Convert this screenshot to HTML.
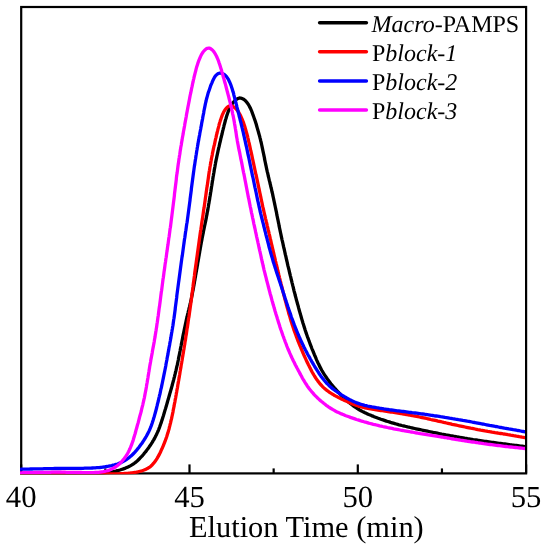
<!DOCTYPE html>
<html><head><meta charset="utf-8"><style>
html,body{margin:0;padding:0;background:#fff;}
body{width:547px;height:550px;overflow:hidden;}
svg{display:block;will-change:transform;}
text{font-family:"Liberation Serif",serif;fill:#000;text-rendering:geometricPrecision;}
</style></head><body>
<svg width="547" height="550" viewBox="0 0 547 550">
<defs><clipPath id="c"><rect x="20" y="7.0" width="505" height="467.2"/></clipPath></defs>
<g stroke="#000" stroke-width="2.2" fill="none">
<rect x="21.2" y="7.0" width="504.90000000000003" height="466.4"/>
<line x1="21.20" y1="473.4" x2="21.20" y2="464.4"/>
<line x1="189.50" y1="473.4" x2="189.50" y2="464.4"/>
<line x1="357.80" y1="473.4" x2="357.80" y2="464.4"/>
<line x1="526.10" y1="473.4" x2="526.10" y2="464.4"/>
<line x1="105.35" y1="473.4" x2="105.35" y2="468.4"/>
<line x1="273.65" y1="473.4" x2="273.65" y2="468.4"/>
<line x1="441.95" y1="473.4" x2="441.95" y2="468.4"/>
</g>
<g clip-path="url(#c)" fill="none" stroke-width="3.3" stroke-linejoin="round" stroke-linecap="round">
<path d="M20.0,474.0 L21.5,474.0 L22.9,474.0 L24.4,474.0 L25.8,474.0 L27.3,474.0 L28.7,474.0 L30.2,474.0 L31.7,474.0 L33.1,474.0 L34.6,474.0 L36.0,474.0 L37.5,474.0 L38.9,474.0 L40.4,474.0 L41.8,474.0 L43.3,474.0 L44.8,474.0 L46.2,474.0 L47.7,474.0 L49.1,474.0 L50.6,474.1 L52.0,474.1 L53.5,474.1 L55.0,474.1 L56.4,474.1 L57.9,474.1 L59.3,474.2 L60.8,474.2 L62.2,474.2 L63.7,474.2 L65.1,474.2 L66.6,474.3 L68.1,474.3 L69.5,474.3 L71.0,474.3 L72.4,474.4 L73.9,474.4 L75.3,474.4 L76.8,474.4 L78.2,474.4 L79.7,474.4 L81.1,474.4 L82.6,474.4 L84.0,474.4 L85.5,474.3 L86.9,474.3 L88.4,474.3 L89.8,474.2 L91.3,474.1 L92.7,474.1 L94.2,474.0 L95.6,473.9 L97.1,473.8 L98.5,473.7 L100.0,473.6 L101.4,473.4 L102.9,473.3 L104.3,473.1 L105.7,472.9 L107.2,472.7 L108.6,472.5 L110.0,472.3 L111.5,472.0 L112.9,471.7 L114.3,471.4 L115.8,471.1 L117.2,470.7 L118.6,470.4 L120.0,470.0 L121.4,469.5 L122.7,469.1 L124.1,468.6 L125.5,468.1 L126.8,467.5 L128.1,466.9 L129.4,466.3 L130.7,465.6 L131.9,464.9 L133.1,464.1 L134.3,463.3 L135.5,462.4 L136.6,461.5 L137.7,460.5 L138.7,459.5 L139.7,458.5 L140.7,457.4 L141.7,456.4 L142.7,455.3 L143.6,454.2 L144.5,453.0 L145.5,451.9 L146.4,450.7 L147.2,449.6 L148.1,448.4 L149.0,447.2 L149.8,446.0 L150.6,444.8 L151.4,443.6 L152.2,442.4 L152.9,441.1 L153.7,439.9 L154.4,438.6 L155.1,437.3 L155.7,436.0 L156.4,434.7 L157.0,433.4 L157.6,432.1 L158.2,430.8 L158.7,429.5 L159.2,428.1 L159.7,426.8 L160.2,425.4 L160.7,424.0 L161.2,422.7 L161.6,421.3 L162.1,419.9 L162.5,418.5 L162.9,417.2 L163.4,415.8 L163.8,414.4 L164.2,413.0 L164.6,411.6 L165.0,410.2 L165.5,408.8 L165.9,407.4 L166.3,406.0 L166.7,404.6 L167.1,403.2 L167.5,401.8 L167.9,400.4 L168.3,399.0 L168.7,397.6 L169.1,396.2 L169.5,394.8 L169.9,393.4 L170.3,392.0 L170.7,390.6 L171.1,389.2 L171.5,387.8 L171.9,386.4 L172.3,385.0 L172.6,383.6 L173.0,382.2 L173.4,380.8 L173.8,379.4 L174.1,378.0 L174.5,376.6 L174.8,375.1 L175.2,373.7 L175.5,372.3 L175.9,370.9 L176.2,369.5 L176.5,368.1 L176.8,366.6 L177.2,365.2 L177.5,363.8 L177.8,362.4 L178.1,361.0 L178.4,359.5 L178.6,358.1 L178.9,356.7 L179.2,355.3 L179.5,353.9 L179.8,352.4 L180.1,351.0 L180.3,349.6 L180.6,348.2 L180.9,346.7 L181.2,345.3 L181.4,343.9 L181.7,342.5 L182.0,341.0 L182.3,339.6 L182.6,338.2 L182.8,336.8 L183.1,335.3 L183.4,333.9 L183.7,332.5 L184.0,331.1 L184.3,329.6 L184.6,328.2 L184.9,326.8 L185.2,325.4 L185.5,323.9 L185.8,322.5 L186.1,321.1 L186.4,319.7 L186.7,318.3 L187.1,316.8 L187.4,315.4 L187.7,314.0 L188.1,312.6 L188.4,311.1 L188.8,309.7 L189.1,308.3 L189.5,306.9 L189.8,305.5 L190.1,304.0 L190.5,302.6 L190.8,301.2 L191.1,299.8 L191.4,298.3 L191.7,296.9 L192.0,295.5 L192.3,294.1 L192.5,292.6 L192.8,291.2 L193.1,289.8 L193.4,288.3 L193.6,286.9 L193.9,285.5 L194.1,284.1 L194.4,282.6 L194.6,281.2 L194.9,279.8 L195.1,278.3 L195.4,276.9 L195.6,275.5 L195.9,274.0 L196.1,272.6 L196.4,271.2 L196.6,269.7 L196.9,268.3 L197.1,266.9 L197.4,265.5 L197.6,264.0 L197.8,262.6 L198.1,261.2 L198.3,259.7 L198.6,258.3 L198.8,256.9 L199.1,255.4 L199.3,254.0 L199.6,252.6 L199.8,251.1 L200.1,249.7 L200.3,248.3 L200.6,246.8 L200.8,245.4 L201.1,244.0 L201.3,242.6 L201.6,241.1 L201.9,239.7 L202.1,238.3 L202.4,236.9 L202.7,235.4 L203.0,234.0 L203.3,232.6 L203.5,231.2 L203.8,229.8 L204.1,228.4 L204.4,226.9 L204.7,225.5 L205.0,224.1 L205.3,222.7 L205.6,221.3 L205.9,219.9 L206.2,218.4 L206.4,217.0 L206.7,215.6 L207.0,214.2 L207.2,212.7 L207.5,211.3 L207.8,209.9 L208.0,208.5 L208.3,207.0 L208.5,205.6 L208.7,204.2 L209.0,202.8 L209.2,201.3 L209.5,199.9 L209.7,198.5 L209.9,197.0 L210.2,195.6 L210.4,194.2 L210.6,192.7 L210.9,191.3 L211.1,189.8 L211.3,188.4 L211.5,187.0 L211.8,185.5 L212.0,184.1 L212.2,182.7 L212.4,181.2 L212.7,179.8 L212.9,178.3 L213.1,176.9 L213.4,175.5 L213.6,174.0 L213.9,172.6 L214.1,171.2 L214.3,169.7 L214.6,168.3 L214.9,166.8 L215.1,165.4 L215.4,164.0 L215.6,162.6 L215.9,161.1 L216.2,159.7 L216.5,158.3 L216.8,156.8 L217.1,155.4 L217.4,154.0 L217.7,152.6 L218.0,151.2 L218.3,149.7 L218.6,148.3 L219.0,146.9 L219.3,145.5 L219.6,144.1 L219.9,142.7 L220.3,141.2 L220.6,139.8 L220.9,138.4 L221.3,137.0 L221.6,135.6 L222.0,134.2 L222.3,132.7 L222.6,131.3 L223.0,129.9 L223.3,128.5 L223.7,127.1 L224.0,125.6 L224.4,124.2 L224.8,122.8 L225.2,121.3 L225.5,119.9 L226.0,118.5 L226.4,117.0 L226.8,115.6 L227.3,114.2 L227.8,112.8 L228.3,111.4 L228.9,110.0 L229.5,108.6 L230.2,107.2 L230.9,105.9 L231.7,104.6 L232.5,103.3 L233.5,102.1 L234.5,101.0 L235.5,100.1 L236.6,99.2 L237.7,98.6 L238.9,98.2 L240.1,98.0 L241.2,98.2 L242.4,98.6 L243.5,99.2 L244.6,100.0 L245.7,101.0 L246.6,102.1 L247.5,103.3 L248.4,104.5 L249.1,105.8 L249.8,107.1 L250.5,108.4 L251.1,109.8 L251.7,111.2 L252.2,112.6 L252.7,114.0 L253.2,115.4 L253.7,116.8 L254.2,118.2 L254.7,119.6 L255.2,121.0 L255.6,122.4 L256.1,123.8 L256.5,125.3 L256.9,126.7 L257.3,128.1 L257.7,129.5 L258.1,130.9 L258.5,132.3 L258.9,133.7 L259.3,135.1 L259.7,136.5 L260.0,137.9 L260.4,139.3 L260.7,140.7 L261.1,142.2 L261.4,143.6 L261.7,145.0 L262.0,146.4 L262.3,147.8 L262.6,149.2 L262.9,150.7 L263.2,152.1 L263.5,153.5 L263.8,154.9 L264.1,156.3 L264.4,157.7 L264.6,159.2 L264.9,160.6 L265.2,162.0 L265.5,163.4 L265.8,164.8 L266.1,166.2 L266.4,167.7 L266.7,169.1 L267.0,170.5 L267.3,171.9 L267.7,173.3 L268.0,174.7 L268.3,176.2 L268.7,177.6 L269.0,179.0 L269.3,180.4 L269.7,181.8 L270.0,183.3 L270.4,184.7 L270.7,186.1 L271.0,187.5 L271.4,188.9 L271.7,190.4 L272.0,191.8 L272.4,193.2 L272.7,194.6 L273.0,196.1 L273.3,197.5 L273.6,198.9 L273.9,200.3 L274.2,201.8 L274.5,203.2 L274.8,204.6 L275.1,206.0 L275.4,207.5 L275.7,208.9 L276.0,210.3 L276.3,211.7 L276.6,213.1 L276.8,214.6 L277.1,216.0 L277.4,217.4 L277.7,218.8 L278.0,220.2 L278.3,221.7 L278.6,223.1 L278.9,224.5 L279.1,225.9 L279.4,227.3 L279.7,228.8 L280.0,230.2 L280.3,231.6 L280.6,233.0 L280.9,234.4 L281.2,235.9 L281.5,237.3 L281.8,238.7 L282.1,240.1 L282.5,241.6 L282.8,243.0 L283.1,244.4 L283.4,245.8 L283.7,247.2 L284.1,248.7 L284.4,250.1 L284.7,251.5 L285.0,252.9 L285.3,254.4 L285.7,255.8 L286.0,257.2 L286.3,258.6 L286.6,260.0 L287.0,261.5 L287.3,262.9 L287.6,264.3 L287.9,265.7 L288.3,267.1 L288.6,268.5 L289.0,269.9 L289.3,271.3 L289.6,272.8 L290.0,274.2 L290.3,275.6 L290.7,277.0 L291.0,278.4 L291.3,279.8 L291.7,281.2 L292.0,282.6 L292.4,284.0 L292.7,285.4 L293.1,286.8 L293.4,288.3 L293.8,289.7 L294.1,291.1 L294.5,292.5 L294.9,293.9 L295.2,295.3 L295.6,296.7 L296.0,298.1 L296.3,299.5 L296.7,300.9 L297.1,302.3 L297.5,303.7 L297.9,305.1 L298.3,306.5 L298.6,307.9 L299.0,309.3 L299.4,310.7 L299.8,312.1 L300.2,313.5 L300.6,314.9 L301.0,316.3 L301.4,317.7 L301.8,319.1 L302.2,320.4 L302.6,321.8 L303.0,323.2 L303.5,324.6 L303.9,326.0 L304.3,327.4 L304.8,328.8 L305.2,330.2 L305.7,331.6 L306.1,332.9 L306.6,334.3 L307.1,335.7 L307.6,337.1 L308.1,338.4 L308.6,339.8 L309.1,341.2 L309.6,342.5 L310.1,343.9 L310.6,345.3 L311.2,346.6 L311.7,348.0 L312.2,349.3 L312.8,350.7 L313.3,352.0 L313.9,353.4 L314.4,354.7 L315.0,356.0 L315.6,357.4 L316.1,358.7 L316.7,360.1 L317.3,361.4 L317.9,362.7 L318.6,364.0 L319.2,365.3 L319.8,366.6 L320.5,367.9 L321.2,369.2 L321.9,370.5 L322.6,371.7 L323.4,373.0 L324.1,374.2 L324.9,375.4 L325.7,376.6 L326.6,377.8 L327.4,379.0 L328.3,380.2 L329.1,381.4 L330.0,382.5 L330.9,383.7 L331.8,384.8 L332.7,385.9 L333.7,387.0 L334.6,388.1 L335.6,389.2 L336.6,390.3 L337.6,391.4 L338.6,392.4 L339.6,393.5 L340.6,394.5 L341.6,395.6 L342.7,396.6 L343.7,397.6 L344.8,398.6 L345.8,399.6 L346.9,400.6 L348.0,401.5 L349.1,402.5 L350.2,403.4 L351.3,404.3 L352.5,405.2 L353.7,406.1 L354.8,406.9 L356.0,407.7 L357.3,408.5 L358.5,409.3 L359.7,410.0 L361.0,410.7 L362.3,411.4 L363.6,412.0 L364.9,412.7 L366.2,413.3 L367.5,413.9 L368.8,414.5 L370.1,415.0 L371.5,415.6 L372.8,416.1 L374.1,416.7 L375.5,417.2 L376.9,417.7 L378.2,418.2 L379.6,418.7 L380.9,419.2 L382.3,419.7 L383.7,420.1 L385.1,420.6 L386.4,421.1 L387.8,421.5 L389.2,421.9 L390.6,422.4 L392.0,422.8 L393.4,423.2 L394.8,423.6 L396.2,424.0 L397.6,424.4 L399.0,424.8 L400.4,425.1 L401.8,425.5 L403.3,425.8 L404.7,426.2 L406.1,426.5 L407.5,426.9 L408.9,427.2 L410.3,427.5 L411.8,427.8 L413.2,428.2 L414.6,428.5 L416.0,428.8 L417.5,429.1 L418.9,429.4 L420.3,429.7 L421.7,430.0 L423.2,430.3 L424.6,430.6 L426.0,430.9 L427.5,431.2 L428.9,431.5 L430.3,431.8 L431.7,432.1 L433.2,432.4 L434.6,432.6 L436.0,432.9 L437.4,433.2 L438.9,433.5 L440.3,433.8 L441.7,434.1 L443.1,434.3 L444.6,434.6 L446.0,434.9 L447.4,435.1 L448.8,435.4 L450.3,435.7 L451.7,435.9 L453.1,436.2 L454.5,436.5 L456.0,436.7 L457.4,437.0 L458.8,437.2 L460.3,437.5 L461.7,437.7 L463.1,437.9 L464.6,438.2 L466.0,438.4 L467.5,438.7 L468.9,438.9 L470.3,439.1 L471.8,439.3 L473.2,439.6 L474.6,439.8 L476.1,440.0 L477.5,440.2 L479.0,440.5 L480.4,440.7 L481.8,440.9 L483.3,441.1 L484.7,441.3 L486.1,441.5 L487.6,441.7 L489.0,441.9 L490.4,442.1 L491.9,442.3 L493.3,442.5 L494.7,442.7 L496.2,442.9 L497.6,443.1 L499.0,443.3 L500.5,443.5 L501.9,443.7 L503.3,443.9 L504.8,444.0 L506.2,444.2 L507.7,444.4 L509.1,444.6 L510.5,444.8 L512.0,445.0 L513.4,445.1 L514.9,445.3 L516.3,445.5 L517.8,445.7 L519.2,445.9 L520.6,446.1 L522.1,446.2 L523.5,446.4 L525.0,446.6" stroke="#000000"/>
<path d="M20.0,474.0 L21.5,474.0 L22.9,474.0 L24.4,474.0 L25.8,474.0 L27.3,474.0 L28.7,474.0 L30.2,474.0 L31.7,474.0 L33.1,474.0 L34.6,474.0 L36.0,474.0 L37.5,474.0 L38.9,474.0 L40.4,474.0 L41.9,474.0 L43.3,474.0 L44.8,474.0 L46.2,474.0 L47.7,474.0 L49.1,474.0 L50.6,474.0 L52.0,474.0 L53.5,474.0 L54.9,474.0 L56.4,474.0 L57.8,474.0 L59.3,474.0 L60.7,474.0 L62.2,474.0 L63.6,474.0 L65.1,474.0 L66.5,474.0 L68.0,474.1 L69.4,474.1 L70.9,474.1 L72.3,474.1 L73.8,474.1 L75.2,474.1 L76.7,474.1 L78.1,474.1 L79.6,474.1 L81.0,474.1 L82.5,474.1 L83.9,474.1 L85.4,474.1 L86.8,474.1 L88.3,474.1 L89.7,474.1 L91.2,474.1 L92.6,474.1 L94.1,474.1 L95.5,474.1 L97.0,474.1 L98.4,474.1 L99.9,474.1 L101.3,474.1 L102.8,474.1 L104.2,474.1 L105.7,474.1 L107.1,474.0 L108.6,474.0 L110.0,474.0 L111.5,474.0 L113.0,473.9 L114.4,473.9 L115.9,473.9 L117.3,473.8 L118.8,473.8 L120.3,473.7 L121.7,473.6 L123.2,473.6 L124.7,473.5 L126.1,473.4 L127.6,473.3 L129.1,473.1 L130.5,473.0 L132.0,472.8 L133.5,472.6 L134.9,472.4 L136.3,472.2 L137.8,471.9 L139.2,471.5 L140.6,471.2 L142.0,470.8 L143.4,470.3 L144.7,469.8 L146.0,469.2 L147.3,468.6 L148.5,467.8 L149.7,467.1 L150.8,466.2 L151.8,465.3 L152.8,464.2 L153.7,463.2 L154.6,462.0 L155.5,460.9 L156.3,459.7 L157.1,458.4 L157.8,457.2 L158.5,455.9 L159.2,454.6 L159.9,453.3 L160.5,452.0 L161.1,450.6 L161.7,449.3 L162.3,448.0 L162.9,446.6 L163.5,445.3 L164.0,443.9 L164.6,442.5 L165.1,441.2 L165.6,439.8 L166.1,438.4 L166.6,437.0 L167.0,435.7 L167.4,434.3 L167.9,432.9 L168.3,431.5 L168.7,430.1 L169.1,428.7 L169.4,427.3 L169.8,425.9 L170.1,424.5 L170.5,423.1 L170.8,421.7 L171.1,420.3 L171.5,418.9 L171.8,417.4 L172.1,416.0 L172.4,414.6 L172.7,413.2 L173.0,411.8 L173.2,410.3 L173.5,408.9 L173.8,407.5 L174.1,406.1 L174.3,404.6 L174.6,403.2 L174.9,401.8 L175.1,400.4 L175.4,398.9 L175.7,397.5 L175.9,396.1 L176.2,394.6 L176.4,393.2 L176.7,391.8 L176.9,390.3 L177.2,388.9 L177.5,387.5 L177.7,386.0 L177.9,384.6 L178.2,383.2 L178.4,381.7 L178.7,380.3 L178.9,378.9 L179.2,377.4 L179.4,376.0 L179.7,374.5 L179.9,373.1 L180.1,371.7 L180.4,370.2 L180.6,368.8 L180.9,367.4 L181.1,365.9 L181.3,364.5 L181.6,363.1 L181.8,361.7 L182.1,360.2 L182.3,358.8 L182.5,357.4 L182.8,355.9 L183.0,354.5 L183.3,353.1 L183.5,351.6 L183.7,350.2 L184.0,348.8 L184.2,347.3 L184.4,345.9 L184.7,344.5 L184.9,343.0 L185.1,341.6 L185.4,340.2 L185.6,338.7 L185.8,337.3 L186.0,335.8 L186.3,334.4 L186.5,333.0 L186.7,331.5 L186.9,330.1 L187.1,328.6 L187.4,327.2 L187.6,325.7 L187.8,324.3 L188.0,322.9 L188.2,321.4 L188.4,320.0 L188.6,318.5 L188.9,317.1 L189.1,315.7 L189.3,314.2 L189.5,312.8 L189.7,311.3 L189.9,309.9 L190.1,308.5 L190.3,307.0 L190.5,305.6 L190.7,304.2 L190.9,302.7 L191.1,301.3 L191.3,299.8 L191.5,298.4 L191.6,297.0 L191.8,295.5 L192.0,294.1 L192.2,292.6 L192.4,291.2 L192.6,289.8 L192.8,288.3 L193.0,286.9 L193.1,285.4 L193.3,284.0 L193.5,282.6 L193.7,281.1 L193.9,279.7 L194.1,278.2 L194.3,276.8 L194.5,275.4 L194.6,273.9 L194.8,272.5 L195.0,271.0 L195.2,269.6 L195.4,268.2 L195.6,266.7 L195.8,265.3 L196.0,263.9 L196.2,262.4 L196.4,261.0 L196.6,259.5 L196.8,258.1 L197.0,256.7 L197.2,255.2 L197.4,253.8 L197.6,252.3 L197.8,250.9 L198.0,249.4 L198.2,248.0 L198.4,246.6 L198.6,245.1 L198.8,243.7 L199.0,242.2 L199.2,240.8 L199.4,239.3 L199.6,237.9 L199.8,236.5 L200.0,235.0 L200.2,233.6 L200.4,232.1 L200.6,230.7 L200.9,229.3 L201.1,227.8 L201.3,226.4 L201.5,224.9 L201.7,223.5 L201.9,222.1 L202.1,220.6 L202.4,219.2 L202.6,217.7 L202.8,216.3 L203.0,214.9 L203.2,213.4 L203.4,212.0 L203.6,210.5 L203.8,209.1 L204.1,207.7 L204.3,206.2 L204.5,204.8 L204.7,203.3 L204.9,201.9 L205.1,200.5 L205.3,199.0 L205.5,197.6 L205.7,196.1 L205.9,194.7 L206.1,193.3 L206.3,191.8 L206.5,190.4 L206.7,188.9 L206.9,187.5 L207.2,186.1 L207.4,184.6 L207.6,183.2 L207.8,181.8 L208.0,180.3 L208.2,178.9 L208.4,177.5 L208.6,176.0 L208.8,174.6 L209.0,173.2 L209.2,171.7 L209.5,170.3 L209.7,168.9 L209.9,167.5 L210.2,166.0 L210.4,164.6 L210.7,163.2 L210.9,161.8 L211.2,160.3 L211.4,158.9 L211.7,157.5 L212.0,156.1 L212.3,154.6 L212.5,153.2 L212.8,151.8 L213.1,150.4 L213.4,148.9 L213.7,147.5 L214.0,146.1 L214.4,144.7 L214.7,143.3 L215.0,141.8 L215.3,140.4 L215.6,139.0 L216.0,137.6 L216.3,136.1 L216.6,134.7 L217.0,133.3 L217.3,131.9 L217.7,130.4 L218.0,129.0 L218.4,127.6 L218.8,126.1 L219.1,124.7 L219.5,123.3 L220.0,121.8 L220.4,120.4 L220.9,119.0 L221.4,117.5 L221.9,116.1 L222.4,114.7 L223.1,113.3 L223.7,112.0 L224.5,110.7 L225.3,109.5 L226.1,108.4 L227.1,107.4 L228.2,106.6 L229.3,106.1 L230.5,105.9 L231.7,106.1 L232.9,106.5 L234.0,107.1 L235.0,107.9 L236.0,108.9 L236.9,109.9 L237.8,111.0 L238.6,112.2 L239.4,113.5 L240.1,114.8 L240.8,116.2 L241.4,117.6 L242.0,119.0 L242.6,120.4 L243.2,121.8 L243.7,123.3 L244.2,124.7 L244.6,126.1 L245.1,127.6 L245.5,129.0 L245.9,130.5 L246.3,131.9 L246.7,133.3 L247.1,134.8 L247.5,136.2 L247.8,137.6 L248.2,139.1 L248.5,140.5 L248.8,141.9 L249.2,143.4 L249.5,144.8 L249.8,146.2 L250.1,147.6 L250.4,149.0 L250.7,150.5 L251.1,151.9 L251.4,153.3 L251.7,154.7 L252.0,156.1 L252.3,157.5 L252.6,159.0 L252.9,160.4 L253.2,161.8 L253.5,163.2 L253.8,164.6 L254.1,166.0 L254.4,167.4 L254.7,168.9 L255.0,170.3 L255.3,171.7 L255.6,173.1 L255.9,174.5 L256.3,175.9 L256.6,177.4 L256.9,178.8 L257.2,180.2 L257.5,181.6 L257.8,183.0 L258.1,184.4 L258.4,185.9 L258.7,187.3 L259.0,188.7 L259.3,190.1 L259.6,191.5 L259.9,193.0 L260.2,194.4 L260.5,195.8 L260.8,197.2 L261.1,198.7 L261.4,200.1 L261.7,201.5 L262.0,202.9 L262.3,204.4 L262.6,205.8 L262.9,207.2 L263.3,208.6 L263.6,210.1 L263.9,211.5 L264.2,212.9 L264.5,214.3 L264.9,215.7 L265.2,217.1 L265.5,218.6 L265.9,220.0 L266.2,221.4 L266.6,222.8 L266.9,224.2 L267.2,225.6 L267.6,227.1 L267.9,228.5 L268.2,229.9 L268.6,231.3 L268.9,232.7 L269.2,234.1 L269.6,235.5 L269.9,236.9 L270.2,238.4 L270.6,239.8 L270.9,241.2 L271.2,242.6 L271.5,244.0 L271.9,245.4 L272.2,246.9 L272.5,248.3 L272.9,249.7 L273.2,251.1 L273.5,252.5 L273.9,254.0 L274.2,255.4 L274.5,256.8 L274.9,258.2 L275.2,259.6 L275.5,261.1 L275.9,262.5 L276.2,263.9 L276.6,265.3 L276.9,266.7 L277.2,268.2 L277.6,269.6 L277.9,271.0 L278.3,272.4 L278.6,273.8 L278.9,275.2 L279.3,276.6 L279.6,278.1 L280.0,279.5 L280.3,280.9 L280.7,282.3 L281.0,283.7 L281.4,285.1 L281.7,286.5 L282.1,287.9 L282.4,289.3 L282.8,290.7 L283.1,292.1 L283.5,293.5 L283.8,294.9 L284.2,296.3 L284.6,297.7 L284.9,299.1 L285.3,300.5 L285.7,301.9 L286.1,303.3 L286.4,304.7 L286.8,306.1 L287.2,307.5 L287.6,308.9 L288.0,310.3 L288.4,311.7 L288.7,313.1 L289.1,314.5 L289.6,315.9 L290.0,317.3 L290.4,318.7 L290.8,320.1 L291.2,321.5 L291.7,322.9 L292.1,324.3 L292.6,325.6 L293.0,327.0 L293.5,328.4 L293.9,329.8 L294.4,331.1 L294.9,332.5 L295.4,333.9 L295.9,335.2 L296.4,336.6 L296.9,338.0 L297.4,339.3 L297.9,340.7 L298.5,342.0 L299.0,343.4 L299.5,344.7 L300.1,346.1 L300.7,347.4 L301.2,348.8 L301.8,350.1 L302.4,351.5 L302.9,352.8 L303.5,354.1 L304.1,355.5 L304.7,356.8 L305.3,358.1 L305.9,359.4 L306.5,360.8 L307.1,362.1 L307.8,363.4 L308.4,364.7 L309.1,366.0 L309.7,367.3 L310.4,368.6 L311.0,369.9 L311.7,371.2 L312.4,372.5 L313.2,373.8 L313.9,375.0 L314.7,376.3 L315.4,377.5 L316.2,378.7 L317.1,379.9 L317.9,381.1 L318.8,382.2 L319.7,383.4 L320.6,384.5 L321.6,385.5 L322.6,386.6 L323.6,387.6 L324.7,388.6 L325.8,389.5 L326.9,390.4 L328.1,391.3 L329.2,392.1 L330.4,392.9 L331.7,393.7 L332.9,394.4 L334.1,395.2 L335.4,395.9 L336.7,396.6 L338.0,397.2 L339.3,397.9 L340.6,398.5 L341.9,399.2 L343.2,399.8 L344.5,400.4 L345.9,401.0 L347.2,401.6 L348.5,402.2 L349.9,402.8 L351.2,403.4 L352.6,403.9 L353.9,404.5 L355.3,405.0 L356.6,405.5 L358.0,405.9 L359.4,406.3 L360.8,406.7 L362.2,407.1 L363.6,407.4 L365.1,407.8 L366.5,408.1 L367.9,408.3 L369.3,408.6 L370.8,408.9 L372.2,409.1 L373.6,409.4 L375.1,409.6 L376.5,409.9 L377.9,410.1 L379.4,410.3 L380.8,410.5 L382.3,410.7 L383.7,410.9 L385.2,411.2 L386.6,411.4 L388.0,411.6 L389.5,411.8 L390.9,412.0 L392.3,412.2 L393.8,412.4 L395.2,412.6 L396.7,412.9 L398.1,413.1 L399.5,413.3 L401.0,413.5 L402.4,413.8 L403.8,414.0 L405.2,414.3 L406.7,414.5 L408.1,414.8 L409.5,415.0 L410.9,415.3 L412.4,415.6 L413.8,415.8 L415.2,416.1 L416.6,416.4 L418.0,416.7 L419.5,417.0 L420.9,417.3 L422.3,417.6 L423.7,417.9 L425.1,418.2 L426.6,418.5 L428.0,418.8 L429.4,419.1 L430.8,419.5 L432.2,419.8 L433.7,420.1 L435.1,420.4 L436.5,420.7 L437.9,421.1 L439.3,421.4 L440.8,421.7 L442.2,422.0 L443.6,422.4 L445.0,422.7 L446.4,423.0 L447.9,423.3 L449.3,423.6 L450.7,423.9 L452.1,424.3 L453.6,424.6 L455.0,424.9 L456.4,425.2 L457.8,425.5 L459.3,425.8 L460.7,426.1 L462.1,426.4 L463.5,426.7 L465.0,427.0 L466.4,427.3 L467.8,427.6 L469.2,427.9 L470.7,428.2 L472.1,428.4 L473.5,428.7 L475.0,429.0 L476.4,429.3 L477.8,429.6 L479.3,429.8 L480.7,430.1 L482.1,430.3 L483.5,430.6 L485.0,430.9 L486.4,431.1 L487.8,431.4 L489.3,431.6 L490.7,431.8 L492.1,432.1 L493.6,432.3 L495.0,432.6 L496.4,432.8 L497.8,433.0 L499.3,433.3 L500.7,433.5 L502.1,433.7 L503.6,434.0 L505.0,434.2 L506.4,434.4 L507.9,434.7 L509.3,434.9 L510.7,435.2 L512.1,435.4 L513.6,435.7 L515.0,435.9 L516.4,436.2 L517.9,436.4 L519.3,436.7 L520.7,436.9 L522.1,437.2 L523.6,437.4 L525.0,437.7" stroke="#ff0000"/>
<path d="M20.0,469.3 L21.5,469.2 L23.0,469.2 L24.5,469.2 L26.0,469.1 L27.5,469.1 L29.0,469.1 L30.5,469.0 L32.0,469.0 L33.5,468.9 L35.0,468.9 L36.5,468.9 L38.0,468.8 L39.5,468.8 L41.0,468.8 L42.5,468.8 L44.0,468.7 L45.6,468.7 L47.1,468.7 L48.6,468.6 L50.1,468.6 L51.6,468.6 L53.1,468.6 L54.6,468.5 L56.1,468.5 L57.6,468.5 L59.1,468.5 L60.6,468.5 L62.1,468.4 L63.6,468.4 L65.1,468.4 L66.6,468.4 L68.1,468.4 L69.6,468.4 L71.1,468.4 L72.7,468.4 L74.2,468.3 L75.7,468.3 L77.2,468.3 L78.7,468.3 L80.2,468.3 L81.7,468.3 L83.2,468.3 L84.7,468.2 L86.2,468.2 L87.8,468.2 L89.3,468.1 L90.8,468.1 L92.3,468.0 L93.8,467.9 L95.3,467.8 L96.8,467.7 L98.3,467.6 L99.8,467.5 L101.3,467.3 L102.8,467.1 L104.2,467.0 L105.7,466.7 L107.2,466.5 L108.7,466.2 L110.2,465.9 L111.7,465.6 L113.1,465.2 L114.6,464.9 L116.0,464.4 L117.5,464.0 L118.9,463.4 L120.3,462.9 L121.6,462.3 L123.0,461.6 L124.3,460.9 L125.5,460.1 L126.8,459.3 L128.0,458.4 L129.2,457.5 L130.3,456.5 L131.5,455.6 L132.6,454.5 L133.6,453.5 L134.7,452.4 L135.7,451.2 L136.7,450.1 L137.6,448.9 L138.6,447.7 L139.5,446.5 L140.4,445.3 L141.3,444.1 L142.2,442.9 L143.0,441.6 L143.8,440.4 L144.6,439.1 L145.4,437.8 L146.2,436.5 L146.9,435.2 L147.6,433.9 L148.3,432.5 L149.0,431.2 L149.6,429.8 L150.2,428.4 L150.7,427.1 L151.3,425.6 L151.8,424.2 L152.3,422.8 L152.7,421.4 L153.2,419.9 L153.6,418.5 L154.1,417.0 L154.5,415.6 L154.9,414.1 L155.3,412.7 L155.7,411.2 L156.1,409.8 L156.5,408.3 L156.8,406.9 L157.2,405.4 L157.5,403.9 L157.9,402.5 L158.3,401.0 L158.6,399.6 L158.9,398.1 L159.3,396.6 L159.6,395.2 L160.0,393.7 L160.3,392.3 L160.6,390.8 L160.9,389.3 L161.3,387.9 L161.6,386.4 L161.9,384.9 L162.2,383.5 L162.5,382.0 L162.8,380.5 L163.1,379.1 L163.4,377.6 L163.7,376.1 L164.0,374.6 L164.3,373.2 L164.6,371.7 L164.9,370.2 L165.2,368.7 L165.5,367.2 L165.8,365.7 L166.0,364.3 L166.3,362.8 L166.6,361.3 L166.9,359.8 L167.1,358.3 L167.4,356.8 L167.7,355.4 L168.0,353.9 L168.2,352.4 L168.5,350.9 L168.8,349.4 L169.0,347.9 L169.3,346.5 L169.6,345.0 L169.8,343.5 L170.1,342.0 L170.4,340.5 L170.6,339.1 L170.9,337.6 L171.1,336.1 L171.4,334.6 L171.6,333.1 L171.9,331.6 L172.1,330.2 L172.4,328.7 L172.6,327.2 L172.9,325.7 L173.1,324.2 L173.3,322.7 L173.5,321.2 L173.7,319.8 L174.0,318.3 L174.2,316.8 L174.4,315.3 L174.6,313.8 L174.8,312.3 L175.0,310.8 L175.2,309.3 L175.3,307.9 L175.5,306.4 L175.7,304.9 L175.9,303.4 L176.1,301.9 L176.3,300.4 L176.5,298.9 L176.7,297.4 L176.8,295.9 L177.0,294.4 L177.2,292.9 L177.4,291.4 L177.6,289.9 L177.8,288.4 L178.0,286.9 L178.2,285.4 L178.4,283.9 L178.6,282.4 L178.8,281.0 L179.0,279.5 L179.2,278.0 L179.4,276.5 L179.6,275.0 L179.8,273.5 L180.0,272.0 L180.2,270.5 L180.4,269.0 L180.6,267.5 L180.8,266.0 L181.0,264.5 L181.2,263.0 L181.4,261.6 L181.6,260.1 L181.8,258.6 L182.0,257.1 L182.3,255.6 L182.5,254.1 L182.7,252.6 L182.9,251.1 L183.1,249.6 L183.3,248.1 L183.5,246.6 L183.7,245.1 L183.9,243.7 L184.1,242.2 L184.3,240.7 L184.5,239.2 L184.8,237.7 L185.0,236.2 L185.2,234.7 L185.4,233.3 L185.6,231.8 L185.9,230.3 L186.1,228.8 L186.3,227.3 L186.5,225.8 L186.7,224.3 L187.0,222.8 L187.2,221.4 L187.4,219.9 L187.6,218.4 L187.8,216.9 L188.0,215.4 L188.2,213.9 L188.4,212.4 L188.6,210.9 L188.8,209.4 L189.0,207.9 L189.2,206.4 L189.4,204.9 L189.6,203.4 L189.8,201.9 L190.0,200.5 L190.1,199.0 L190.3,197.5 L190.5,196.0 L190.7,194.5 L190.9,193.0 L191.1,191.5 L191.3,190.0 L191.4,188.5 L191.6,187.0 L191.8,185.5 L192.0,184.0 L192.2,182.5 L192.4,181.0 L192.6,179.5 L192.8,178.0 L193.0,176.5 L193.2,175.0 L193.4,173.5 L193.6,172.1 L193.8,170.6 L194.0,169.1 L194.2,167.6 L194.4,166.1 L194.7,164.6 L194.9,163.1 L195.1,161.7 L195.3,160.2 L195.6,158.7 L195.8,157.2 L196.0,155.7 L196.3,154.2 L196.5,152.7 L196.7,151.3 L197.0,149.8 L197.2,148.3 L197.5,146.8 L197.7,145.3 L198.0,143.9 L198.2,142.4 L198.5,140.9 L198.8,139.4 L199.0,137.9 L199.3,136.4 L199.6,135.0 L199.8,133.5 L200.1,132.0 L200.4,130.5 L200.7,129.0 L200.9,127.6 L201.2,126.1 L201.5,124.6 L201.7,123.1 L202.0,121.6 L202.3,120.2 L202.6,118.7 L202.8,117.2 L203.1,115.7 L203.4,114.2 L203.7,112.8 L203.9,111.3 L204.2,109.8 L204.5,108.4 L204.8,106.9 L205.1,105.4 L205.4,103.9 L205.7,102.5 L206.1,101.0 L206.4,99.5 L206.8,98.0 L207.2,96.6 L207.6,95.1 L208.0,93.6 L208.5,92.1 L209.0,90.7 L209.5,89.2 L210.0,87.7 L210.5,86.2 L211.1,84.7 L211.7,83.3 L212.3,81.8 L212.9,80.4 L213.6,79.0 L214.3,77.7 L215.1,76.4 L216.0,75.3 L217.0,74.3 L218.1,73.6 L219.3,73.2 L220.6,73.1 L221.9,73.3 L223.2,73.8 L224.4,74.6 L225.5,75.5 L226.5,76.6 L227.4,77.9 L228.2,79.1 L228.9,80.5 L229.6,81.9 L230.2,83.3 L230.8,84.8 L231.3,86.2 L231.8,87.7 L232.3,89.2 L232.7,90.7 L233.1,92.1 L233.6,93.6 L233.9,95.1 L234.3,96.6 L234.7,98.1 L235.1,99.5 L235.5,101.0 L235.8,102.5 L236.2,103.9 L236.6,105.4 L236.9,106.9 L237.3,108.4 L237.7,109.8 L238.0,111.3 L238.4,112.8 L238.8,114.2 L239.1,115.7 L239.5,117.2 L239.9,118.6 L240.2,120.1 L240.6,121.6 L241.0,123.0 L241.3,124.5 L241.7,126.0 L242.0,127.4 L242.4,128.9 L242.7,130.4 L243.1,131.8 L243.4,133.3 L243.7,134.8 L244.1,136.2 L244.4,137.7 L244.7,139.2 L245.1,140.6 L245.4,142.1 L245.7,143.6 L246.0,145.0 L246.4,146.5 L246.7,148.0 L247.0,149.4 L247.3,150.9 L247.6,152.4 L247.9,153.8 L248.2,155.3 L248.6,156.8 L248.9,158.2 L249.2,159.7 L249.5,161.2 L249.8,162.6 L250.1,164.1 L250.4,165.6 L250.7,167.0 L251.0,168.5 L251.3,170.0 L251.6,171.5 L251.9,172.9 L252.2,174.4 L252.5,175.9 L252.9,177.3 L253.2,178.8 L253.5,180.3 L253.8,181.7 L254.1,183.2 L254.4,184.7 L254.7,186.2 L255.0,187.6 L255.4,189.1 L255.7,190.6 L256.0,192.0 L256.3,193.5 L256.6,195.0 L256.9,196.5 L257.2,197.9 L257.5,199.4 L257.8,200.9 L258.2,202.4 L258.5,203.8 L258.8,205.3 L259.1,206.8 L259.5,208.3 L259.8,209.7 L260.1,211.2 L260.5,212.7 L260.8,214.1 L261.2,215.6 L261.5,217.0 L261.9,218.5 L262.3,220.0 L262.6,221.4 L263.0,222.9 L263.4,224.3 L263.7,225.8 L264.1,227.3 L264.5,228.7 L264.8,230.2 L265.2,231.6 L265.6,233.1 L265.9,234.6 L266.3,236.0 L266.7,237.5 L267.1,238.9 L267.4,240.4 L267.8,241.8 L268.2,243.3 L268.6,244.8 L268.9,246.2 L269.3,247.7 L269.7,249.1 L270.1,250.6 L270.5,252.0 L270.9,253.5 L271.3,254.9 L271.7,256.4 L272.2,257.8 L272.6,259.3 L273.0,260.7 L273.4,262.2 L273.9,263.6 L274.3,265.0 L274.8,266.5 L275.2,267.9 L275.7,269.3 L276.1,270.8 L276.6,272.2 L277.0,273.6 L277.5,275.1 L278.0,276.5 L278.5,277.9 L278.9,279.3 L279.4,280.8 L279.9,282.2 L280.4,283.6 L280.8,285.0 L281.3,286.5 L281.8,287.9 L282.2,289.3 L282.7,290.8 L283.2,292.2 L283.6,293.6 L284.1,295.1 L284.6,296.5 L285.0,297.9 L285.5,299.4 L286.0,300.8 L286.4,302.2 L286.9,303.7 L287.4,305.1 L287.8,306.5 L288.3,307.9 L288.8,309.4 L289.3,310.8 L289.8,312.2 L290.3,313.6 L290.8,315.1 L291.2,316.5 L291.7,317.9 L292.3,319.3 L292.8,320.7 L293.3,322.1 L293.8,323.5 L294.3,324.9 L294.9,326.3 L295.4,327.7 L296.0,329.1 L296.5,330.5 L297.1,331.9 L297.7,333.3 L298.3,334.7 L298.9,336.1 L299.5,337.5 L300.1,338.8 L300.7,340.2 L301.3,341.6 L302.0,342.9 L302.6,344.3 L303.3,345.6 L303.9,347.0 L304.6,348.3 L305.3,349.7 L306.0,351.0 L306.7,352.3 L307.4,353.7 L308.1,355.0 L308.9,356.3 L309.6,357.6 L310.3,359.0 L311.1,360.3 L311.8,361.6 L312.6,362.9 L313.3,364.2 L314.1,365.5 L314.9,366.8 L315.7,368.1 L316.5,369.4 L317.3,370.7 L318.1,371.9 L318.9,373.2 L319.8,374.5 L320.6,375.7 L321.5,376.9 L322.4,378.1 L323.4,379.3 L324.3,380.5 L325.3,381.6 L326.3,382.8 L327.3,383.9 L328.4,384.9 L329.4,386.0 L330.6,387.0 L331.7,387.9 L332.9,388.9 L334.1,389.8 L335.3,390.7 L336.5,391.5 L337.8,392.4 L339.0,393.2 L340.3,394.1 L341.5,394.9 L342.8,395.7 L344.1,396.5 L345.4,397.2 L346.7,398.0 L348.0,398.7 L349.3,399.4 L350.7,400.1 L352.0,400.8 L353.4,401.4 L354.7,402.0 L356.1,402.6 L357.5,403.1 L358.9,403.6 L360.3,404.1 L361.7,404.5 L363.2,404.9 L364.6,405.3 L366.1,405.6 L367.5,406.0 L369.0,406.3 L370.5,406.6 L372.0,406.9 L373.5,407.1 L374.9,407.4 L376.4,407.7 L377.9,407.9 L379.4,408.2 L380.9,408.4 L382.4,408.6 L383.9,408.9 L385.4,409.1 L386.9,409.3 L388.4,409.5 L389.9,409.8 L391.4,410.0 L392.9,410.2 L394.3,410.4 L395.8,410.6 L397.3,410.8 L398.8,410.9 L400.3,411.1 L401.8,411.3 L403.3,411.5 L404.8,411.7 L406.3,411.9 L407.8,412.1 L409.2,412.3 L410.7,412.5 L412.2,412.7 L413.7,412.8 L415.2,413.0 L416.7,413.2 L418.2,413.4 L419.7,413.6 L421.2,413.8 L422.7,414.0 L424.2,414.2 L425.7,414.5 L427.1,414.7 L428.6,414.9 L430.1,415.1 L431.6,415.3 L433.1,415.5 L434.6,415.8 L436.1,416.0 L437.6,416.2 L439.1,416.4 L440.5,416.7 L442.0,416.9 L443.5,417.1 L445.0,417.4 L446.5,417.6 L448.0,417.8 L449.5,418.1 L451.0,418.3 L452.5,418.6 L453.9,418.8 L455.4,419.1 L456.9,419.3 L458.4,419.6 L459.9,419.8 L461.4,420.1 L462.9,420.4 L464.4,420.6 L465.8,420.9 L467.3,421.2 L468.8,421.4 L470.3,421.7 L471.8,422.0 L473.3,422.3 L474.7,422.5 L476.2,422.8 L477.7,423.1 L479.2,423.4 L480.7,423.7 L482.1,424.0 L483.6,424.2 L485.1,424.5 L486.6,424.8 L488.1,425.1 L489.5,425.4 L491.0,425.6 L492.5,425.9 L494.0,426.2 L495.5,426.5 L497.0,426.7 L498.4,427.0 L499.9,427.3 L501.4,427.5 L502.9,427.8 L504.4,428.1 L505.8,428.3 L507.3,428.6 L508.8,428.9 L510.3,429.1 L511.7,429.4 L513.2,429.7 L514.7,429.9 L516.2,430.2 L517.6,430.5 L519.1,430.7 L520.6,431.0 L522.1,431.3 L523.5,431.5 L525.0,431.8" stroke="#0000ff"/>
<path d="M20.0,472.8 L21.6,472.8 L23.2,472.7 L24.8,472.7 L26.3,472.7 L27.9,472.6 L29.5,472.6 L31.1,472.6 L32.7,472.6 L34.3,472.5 L35.9,472.5 L37.5,472.5 L39.1,472.4 L40.7,472.4 L42.3,472.4 L43.9,472.4 L45.5,472.3 L47.1,472.3 L48.7,472.3 L50.3,472.3 L51.9,472.2 L53.6,472.2 L55.2,472.2 L56.8,472.2 L58.4,472.2 L60.0,472.2 L61.6,472.2 L63.2,472.2 L64.8,472.2 L66.5,472.3 L68.1,472.3 L69.7,472.3 L71.3,472.3 L72.9,472.4 L74.5,472.4 L76.1,472.4 L77.7,472.5 L79.4,472.5 L81.0,472.5 L82.6,472.6 L84.2,472.6 L85.8,472.6 L87.4,472.7 L89.0,472.7 L90.6,472.7 L92.2,472.6 L93.8,472.6 L95.3,472.5 L96.9,472.4 L98.5,472.3 L100.1,472.1 L101.6,471.9 L103.2,471.7 L104.7,471.4 L106.3,471.0 L107.8,470.6 L109.3,470.1 L110.8,469.5 L112.2,468.8 L113.6,468.1 L115.0,467.3 L116.3,466.4 L117.6,465.5 L118.8,464.4 L120.0,463.4 L121.1,462.2 L122.2,461.1 L123.2,459.8 L124.2,458.6 L125.2,457.3 L126.1,455.9 L126.9,454.6 L127.7,453.2 L128.5,451.7 L129.2,450.3 L129.9,448.8 L130.5,447.4 L131.1,445.9 L131.7,444.4 L132.2,442.9 L132.8,441.4 L133.3,439.8 L133.7,438.3 L134.2,436.8 L134.6,435.2 L135.1,433.7 L135.5,432.2 L135.9,430.6 L136.4,429.1 L136.8,427.5 L137.2,426.0 L137.6,424.4 L138.1,422.9 L138.5,421.4 L138.9,419.8 L139.3,418.3 L139.7,416.7 L140.1,415.2 L140.6,413.6 L141.0,412.1 L141.4,410.5 L141.7,409.0 L142.1,407.4 L142.5,405.9 L142.9,404.3 L143.2,402.8 L143.6,401.2 L143.9,399.6 L144.3,398.1 L144.6,396.5 L144.9,394.9 L145.2,393.3 L145.5,391.7 L145.8,390.2 L146.1,388.6 L146.4,387.0 L146.6,385.4 L146.9,383.8 L147.2,382.3 L147.4,380.7 L147.7,379.1 L148.0,377.5 L148.2,375.9 L148.5,374.4 L148.7,372.8 L149.0,371.2 L149.2,369.6 L149.5,368.1 L149.7,366.5 L150.0,364.9 L150.3,363.3 L150.6,361.8 L150.8,360.2 L151.1,358.6 L151.4,357.1 L151.7,355.5 L152.0,353.9 L152.3,352.3 L152.5,350.8 L152.8,349.2 L153.1,347.6 L153.4,346.1 L153.7,344.5 L154.0,342.9 L154.3,341.3 L154.5,339.8 L154.8,338.2 L155.1,336.6 L155.3,335.0 L155.6,333.4 L155.8,331.9 L156.1,330.3 L156.3,328.7 L156.6,327.1 L156.8,325.5 L157.0,323.9 L157.3,322.3 L157.5,320.8 L157.7,319.2 L157.9,317.6 L158.2,316.0 L158.4,314.4 L158.6,312.8 L158.8,311.2 L159.0,309.6 L159.2,308.0 L159.5,306.4 L159.7,304.9 L159.9,303.3 L160.1,301.7 L160.3,300.1 L160.5,298.5 L160.7,296.9 L160.9,295.3 L161.1,293.7 L161.3,292.1 L161.6,290.5 L161.8,289.0 L162.0,287.4 L162.2,285.8 L162.4,284.2 L162.6,282.6 L162.8,281.0 L163.0,279.4 L163.3,277.8 L163.5,276.2 L163.7,274.7 L163.9,273.1 L164.1,271.5 L164.4,269.9 L164.6,268.3 L164.8,266.7 L165.0,265.1 L165.2,263.6 L165.5,262.0 L165.7,260.4 L165.9,258.8 L166.2,257.2 L166.4,255.6 L166.6,254.1 L166.8,252.5 L167.1,250.9 L167.3,249.3 L167.5,247.7 L167.7,246.2 L168.0,244.6 L168.2,243.0 L168.4,241.4 L168.6,239.9 L168.8,238.3 L169.1,236.7 L169.3,235.1 L169.5,233.6 L169.7,232.0 L169.9,230.4 L170.1,228.8 L170.4,227.2 L170.6,225.7 L170.8,224.1 L171.0,222.5 L171.2,220.9 L171.4,219.3 L171.6,217.7 L171.8,216.2 L172.0,214.6 L172.2,213.0 L172.4,211.4 L172.6,209.8 L172.8,208.2 L173.0,206.6 L173.2,205.0 L173.4,203.4 L173.6,201.8 L173.8,200.3 L174.0,198.7 L174.2,197.1 L174.4,195.5 L174.5,193.9 L174.7,192.3 L174.9,190.7 L175.1,189.1 L175.3,187.5 L175.5,185.9 L175.7,184.3 L175.9,182.7 L176.1,181.1 L176.3,179.5 L176.4,177.9 L176.6,176.3 L176.8,174.7 L177.1,173.1 L177.3,171.6 L177.5,170.0 L177.7,168.4 L177.9,166.8 L178.1,165.2 L178.3,163.7 L178.6,162.1 L178.8,160.5 L179.0,158.9 L179.3,157.3 L179.5,155.8 L179.8,154.2 L180.0,152.6 L180.2,151.0 L180.5,149.4 L180.7,147.8 L181.0,146.3 L181.3,144.7 L181.5,143.1 L181.8,141.5 L182.1,139.9 L182.3,138.4 L182.6,136.8 L182.9,135.2 L183.2,133.6 L183.4,132.0 L183.7,130.5 L184.0,128.9 L184.3,127.3 L184.6,125.7 L184.8,124.2 L185.1,122.6 L185.4,121.0 L185.7,119.4 L186.0,117.9 L186.3,116.3 L186.5,114.7 L186.8,113.1 L187.1,111.6 L187.4,110.0 L187.7,108.4 L188.0,106.8 L188.3,105.3 L188.6,103.7 L188.9,102.1 L189.2,100.6 L189.5,99.0 L189.8,97.4 L190.1,95.8 L190.4,94.3 L190.8,92.7 L191.1,91.1 L191.4,89.6 L191.7,88.0 L192.1,86.4 L192.4,84.9 L192.7,83.3 L193.1,81.8 L193.4,80.2 L193.8,78.6 L194.1,77.1 L194.5,75.5 L194.9,73.9 L195.3,72.4 L195.7,70.8 L196.1,69.2 L196.5,67.6 L197.0,66.0 L197.5,64.4 L198.0,62.8 L198.6,61.2 L199.2,59.6 L199.9,58.0 L200.6,56.4 L201.3,54.9 L202.2,53.4 L203.1,52.0 L204.1,50.8 L205.2,49.7 L206.3,48.8 L207.4,48.3 L208.6,48.1 L209.7,48.2 L210.8,48.8 L211.9,49.6 L213.0,50.7 L214.0,51.9 L214.9,53.3 L215.7,54.8 L216.5,56.3 L217.2,57.8 L217.9,59.4 L218.5,61.0 L219.0,62.6 L219.6,64.2 L220.1,65.8 L220.6,67.4 L221.1,69.0 L221.6,70.6 L222.0,72.2 L222.5,73.7 L222.9,75.3 L223.3,76.9 L223.8,78.4 L224.2,80.0 L224.6,81.5 L225.0,83.1 L225.5,84.6 L225.9,86.2 L226.3,87.7 L226.7,89.2 L227.1,90.8 L227.5,92.3 L227.9,93.9 L228.3,95.4 L228.7,96.9 L229.1,98.5 L229.5,100.0 L229.9,101.6 L230.3,103.1 L230.6,104.7 L231.0,106.3 L231.4,107.8 L231.7,109.4 L232.1,110.9 L232.4,112.5 L232.7,114.1 L233.1,115.6 L233.4,117.2 L233.7,118.8 L234.0,120.4 L234.3,121.9 L234.5,123.5 L234.8,125.1 L235.1,126.7 L235.3,128.2 L235.6,129.8 L235.8,131.4 L236.1,133.0 L236.3,134.5 L236.5,136.1 L236.8,137.7 L237.1,139.3 L237.3,140.8 L237.6,142.4 L237.9,144.0 L238.2,145.5 L238.5,147.1 L238.8,148.7 L239.1,150.3 L239.5,151.8 L239.8,153.4 L240.1,155.0 L240.4,156.5 L240.7,158.1 L241.0,159.7 L241.4,161.3 L241.7,162.9 L242.0,164.4 L242.3,166.0 L242.6,167.6 L242.9,169.2 L243.2,170.7 L243.5,172.3 L243.9,173.9 L244.2,175.5 L244.5,177.0 L244.8,178.6 L245.1,180.2 L245.4,181.7 L245.7,183.3 L246.0,184.9 L246.3,186.5 L246.6,188.0 L246.9,189.6 L247.2,191.2 L247.5,192.7 L247.8,194.3 L248.1,195.9 L248.4,197.4 L248.8,199.0 L249.1,200.6 L249.4,202.1 L249.7,203.7 L250.0,205.3 L250.3,206.8 L250.7,208.4 L251.0,210.0 L251.3,211.6 L251.6,213.1 L252.0,214.7 L252.3,216.3 L252.6,217.8 L253.0,219.4 L253.3,220.9 L253.6,222.5 L253.9,224.1 L254.3,225.6 L254.6,227.2 L255.0,228.8 L255.3,230.3 L255.6,231.9 L256.0,233.5 L256.3,235.0 L256.6,236.6 L257.0,238.2 L257.3,239.7 L257.7,241.3 L258.0,242.8 L258.4,244.4 L258.7,246.0 L259.0,247.5 L259.4,249.1 L259.7,250.6 L260.1,252.2 L260.4,253.7 L260.8,255.3 L261.1,256.9 L261.4,258.4 L261.8,260.0 L262.1,261.5 L262.5,263.1 L262.9,264.6 L263.2,266.2 L263.6,267.8 L263.9,269.3 L264.3,270.9 L264.7,272.4 L265.1,274.0 L265.5,275.6 L265.9,277.1 L266.3,278.7 L266.6,280.2 L267.1,281.8 L267.5,283.4 L267.9,284.9 L268.3,286.5 L268.7,288.0 L269.1,289.6 L269.5,291.1 L269.9,292.7 L270.3,294.2 L270.8,295.8 L271.2,297.3 L271.6,298.9 L272.0,300.4 L272.5,302.0 L272.9,303.5 L273.3,305.1 L273.8,306.6 L274.2,308.1 L274.7,309.7 L275.1,311.2 L275.6,312.7 L276.0,314.2 L276.5,315.8 L277.0,317.3 L277.4,318.8 L277.9,320.3 L278.4,321.9 L278.9,323.4 L279.4,324.9 L279.8,326.4 L280.3,327.9 L280.8,329.5 L281.4,331.0 L281.9,332.5 L282.4,334.0 L282.9,335.5 L283.5,337.0 L284.0,338.5 L284.6,340.0 L285.1,341.5 L285.7,343.0 L286.3,344.5 L286.8,346.0 L287.4,347.5 L288.0,349.0 L288.7,350.5 L289.3,351.9 L289.9,353.4 L290.6,354.9 L291.2,356.3 L291.9,357.8 L292.6,359.2 L293.3,360.7 L294.0,362.1 L294.7,363.5 L295.4,365.0 L296.2,366.4 L296.9,367.8 L297.7,369.2 L298.4,370.6 L299.2,372.0 L299.9,373.4 L300.7,374.9 L301.5,376.3 L302.2,377.7 L303.0,379.1 L303.8,380.4 L304.6,381.8 L305.5,383.2 L306.4,384.5 L307.2,385.9 L308.2,387.2 L309.1,388.5 L310.1,389.8 L311.1,391.0 L312.1,392.2 L313.2,393.4 L314.2,394.6 L315.4,395.8 L316.5,396.9 L317.6,398.0 L318.8,399.1 L320.0,400.2 L321.2,401.3 L322.5,402.3 L323.7,403.3 L325.0,404.3 L326.2,405.3 L327.5,406.2 L328.8,407.1 L330.2,408.0 L331.5,408.8 L332.9,409.6 L334.3,410.4 L335.7,411.2 L337.1,411.9 L338.6,412.6 L340.0,413.2 L341.5,413.9 L343.0,414.5 L344.4,415.1 L345.9,415.7 L347.4,416.2 L348.9,416.8 L350.4,417.4 L351.9,417.9 L353.4,418.4 L354.9,418.9 L356.4,419.5 L358.0,419.9 L359.5,420.4 L361.0,420.9 L362.5,421.3 L364.1,421.8 L365.6,422.2 L367.2,422.6 L368.7,423.1 L370.2,423.5 L371.8,423.9 L373.3,424.3 L374.9,424.6 L376.4,425.0 L378.0,425.4 L379.6,425.8 L381.1,426.1 L382.7,426.5 L384.2,426.8 L385.8,427.1 L387.4,427.5 L388.9,427.8 L390.5,428.1 L392.1,428.4 L393.6,428.8 L395.2,429.1 L396.8,429.4 L398.3,429.7 L399.9,430.0 L401.5,430.3 L403.0,430.5 L404.6,430.8 L406.2,431.1 L407.8,431.4 L409.4,431.7 L410.9,432.0 L412.5,432.2 L414.1,432.5 L415.7,432.8 L417.3,433.0 L418.9,433.3 L420.4,433.6 L422.0,433.8 L423.6,434.1 L425.2,434.4 L426.8,434.6 L428.4,434.9 L429.9,435.1 L431.5,435.4 L433.1,435.7 L434.7,435.9 L436.3,436.2 L437.8,436.4 L439.4,436.7 L441.0,437.0 L442.6,437.2 L444.1,437.5 L445.7,437.7 L447.3,438.0 L448.9,438.2 L450.4,438.5 L452.0,438.8 L453.6,439.0 L455.2,439.3 L456.8,439.5 L458.3,439.8 L459.9,440.0 L461.5,440.3 L463.1,440.5 L464.7,440.8 L466.2,441.0 L467.8,441.3 L469.4,441.5 L471.0,441.8 L472.6,442.0 L474.2,442.2 L475.8,442.5 L477.3,442.7 L478.9,443.0 L480.5,443.2 L482.1,443.4 L483.7,443.7 L485.3,443.9 L486.9,444.1 L488.5,444.3 L490.1,444.5 L491.7,444.7 L493.2,444.9 L494.8,445.1 L496.4,445.3 L498.0,445.5 L499.6,445.7 L501.2,445.9 L502.8,446.1 L504.4,446.3 L506.0,446.5 L507.5,446.7 L509.1,446.8 L510.7,447.0 L512.3,447.2 L513.9,447.4 L515.5,447.5 L517.1,447.7 L518.7,447.9 L520.2,448.0 L521.8,448.2 L523.4,448.4 L525.0,448.5" stroke="#ff00ff"/>
</g>
<g font-size="30.7">
<text x="21.20" y="507" text-anchor="middle">40</text>
<text x="189.50" y="507" text-anchor="middle">45</text>
<text x="357.80" y="507" text-anchor="middle">50</text>
<text x="526.10" y="507" text-anchor="middle">55</text>
</g>
<text x="189.0" y="537.0" font-size="30.4">Elution Time (min)</text>
<g stroke-width="3.5" stroke-linecap="round">
<line x1="319.6" y1="22.7" x2="366.4" y2="22.7" stroke="#000"/>
<line x1="319.6" y1="51.8" x2="366.4" y2="51.8" stroke="#ff0000"/>
<line x1="319.6" y1="80.9" x2="366.4" y2="80.9" stroke="#0000ff"/>
<line x1="319.6" y1="110.0" x2="366.4" y2="110.0" stroke="#ff00ff"/>
</g>
<g font-size="24">
<text x="371.6" y="31.8"><tspan font-style="italic">Macro</tspan>-PAMPS</text>
<text x="372" y="60.9">P<tspan font-style="italic">block-1</tspan></text>
<text x="372" y="90.0">P<tspan font-style="italic">block-2</tspan></text>
<text x="372" y="119.1">P<tspan font-style="italic">block-3</tspan></text>
</g>
</svg>
</body></html>
